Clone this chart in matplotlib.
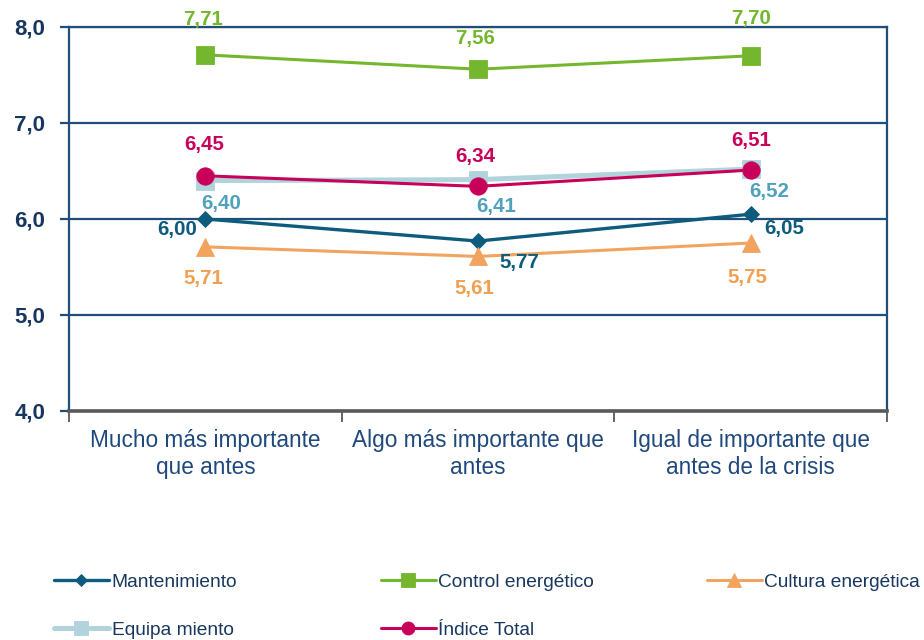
import matplotlib
matplotlib.use("Agg")
import matplotlib.pyplot as plt

plt.rcParams['font.family'] = ['Liberation Sans', 'DejaVu Sans']

categories = ["Mucho más importante\nque antes",
              "Algo más importante que\nantes",
              "Igual de importante que\nantes de la crisis"]

mantenimiento = [6.00, 5.77, 6.05]
control = [7.71, 7.56, 7.70]
cultura = [5.71, 5.61, 5.75]
equipamiento = [6.40, 6.41, 6.52]
indice = [6.45, 6.34, 6.51]

y_ticks = [4.0, 5.0, 6.0, 7.0, 8.0]

# series: label, values, line colour, label colour, marker, marker size, line width, label offsets (px)
series = [
    ("Mantenimiento", mantenimiento, "#0D5C7D", "#0D5C7D", "D", 8.5, 2.4,
     [(-28, -11), (41, -21), (34, -14)]),
    ("Control energético", control, "#74B72E", "#74B72E", "s", 12.5, 2.2,
     [(-2, 35), (-3, 31), (0, 37)]),
    ("Cultura energética", cultura, "#F2A35E", "#F0A050", "^", 12.5, 2.2,
     [(-2, -32), (-4, -32), (-3, -34)]),
    ("Equipa miento", equipamiento, "#B0D3DC", "#4FA1BC", "s", 12.5, 3.6,
     [(16, -23), (18, -27), (19, -22)]),
    ("Índice Total", indice, "#C8005A", "#C8005A", "o", 12.5, 2.2,
     [(-1, 31), (-3, 30), (1, 30)]),
]

fig = plt.figure(figsize=(9.24, 6.4), dpi=100)
ax = fig.add_axes([69 / 924, 1 - 411 / 640, (887 - 69) / 924, (411 - 27) / 640])

xs = [i + 0.5 for i in range(len(categories))]
px2pt = 72 / 100

handles = {}
for k, (name, vals, col, lcol, mk, ms, lw, offs) in enumerate(series):
    ln, = ax.plot(xs, vals, color=col, lw=lw, marker=mk, markersize=ms,
                  markeredgecolor=col, markerfacecolor=col, markeredgewidth=0.6,
                  zorder=3 + k, solid_capstyle='round')
    handles[name] = ln
    for x, v, (dx, dy) in zip(xs, vals, offs):
        ax.annotate(f"{v:.2f}".replace(".", ","), (x, v),
                    xytext=(dx * px2pt, dy * px2pt), textcoords="offset points",
                    ha="center", va="center", fontsize=14.8, fontweight="bold",
                    color=lcol, zorder=10, annotation_clip=False)

ax.set_xlim(0, 3)
ax.set_ylim(4.0, 8.0)
ax.set_yticks(y_ticks)
ax.set_yticklabels([f"{t:.1f}".replace(".", ",") for t in y_ticks],
                   fontsize=16, fontweight="bold", color="#17375E")
ax.tick_params(axis="y", length=6.5, width=1.6, color="#1F4E79", pad=10.5)

ax.set_xticks(xs)
ax.set_xticklabels(categories, fontsize=16.3, color="#1F497D", linespacing=1.22)
ax.set_xticks([0, 1, 2, 3], minor=True)
ax.tick_params(axis="x", which="major", length=0, pad=13)
ax.tick_params(axis="x", which="minor", length=8, width=1.3, color="#5A5A5A")

ax.yaxis.grid(True, color="#1F4E79", lw=1.6)
ax.set_axisbelow(True)
for s in ["left", "right", "top"]:
    ax.spines[s].set_color("#1F4E79")
    ax.spines[s].set_linewidth(1.6)
ax.spines["bottom"].set_color("#5A5A5A")
ax.spines["bottom"].set_linewidth(2.6)

# legend items placed one by one (text left x, row centre y in pixels)
legend_spots = {
    "Mantenimiento": (54, 582),
    "Control energético": (381, 582),
    "Cultura energética": (707, 582),
    "Equipa miento": (54, 630),
    "Índice Total": (381, 630),
}
for name, (lx, ly) in legend_spots.items():
    fig.legend([handles[name]], [name], loc="center left",
               bbox_to_anchor=(lx / 924, 1 - ly / 640), frameon=False,
               fontsize=13.8, handlelength=2.85, handletextpad=0.15,
               borderpad=0, borderaxespad=0, labelcolor="#17375E",
               markerscale=0.75)

fig.savefig("out.png", dpi=100)
